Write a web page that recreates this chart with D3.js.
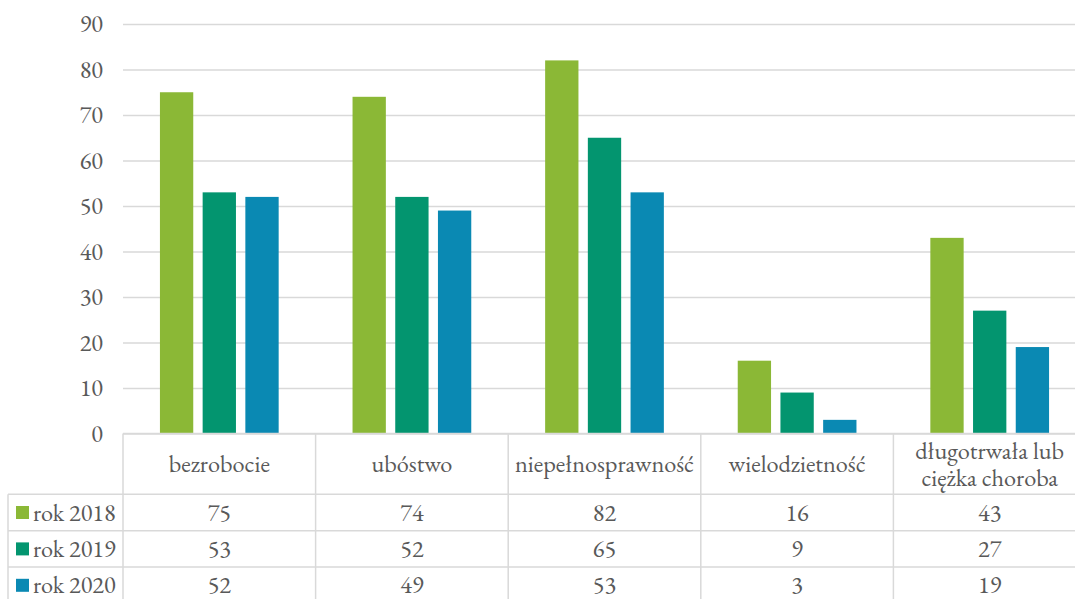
<!DOCTYPE html>
<html><head><meta charset="utf-8">
<script src="https://cdn.jsdelivr.net/npm/d3@7"></script>
<style>body{margin:0;background:#fff;}svg{display:block;}</style>
</head><body>
<svg id="c" width="1075" height="599"></svg>
<script>
const categories = ["bezrobocie","ubóstwo","niepełnosprawność","wielodzietność","długotrwała lub\nciężka choroba"];
const seriesNames = ["rok 2018","rok 2019","rok 2020"];
const rok2018 = [75,74,82,16,43];
const rok2019 = [53,52,65,9,27];
const rok2020 = [52,49,53,3,19];
const colors = ["#8bb836","#03956f","#0a89b3"];
const yTicks = [0,10,20,30,40,50,60,70,80,90];
const values = [rok2018, rok2019, rok2020];

const svg = d3.select("#c");
const textCol = "#595959";
const lineCol = "#d9d9d9";
const fs = 24.3;
const FF = '"EB Garamond", "Liberation Serif"';

const x0 = 123, x1 = 1086, yTop = 24, yBot = 433.5;
const x = d3.scaleBand().domain(categories).range([x0, x1]).paddingInner(0).paddingOuter(0);
const xs = d3.scaleBand().domain(seriesNames).range([0, x.bandwidth()]).paddingInner(0.22).paddingOuter(0.865);
const y = d3.scaleLinear().domain([0, 90]).range([yBot, yTop]);

// gridlines
const grid = svg.append("g").attr("transform", `translate(${x0},0)`)
  .call(d3.axisLeft(y).tickValues(yTicks).tickSize(-(1075 - x0)).tickFormat(""));
grid.select(".domain").remove();
grid.selectAll("line").attr("stroke", lineCol).attr("stroke-width", 1.5);

// y labels
const yl = svg.append("g").attr("transform", `translate(103,0)`)
  .call(d3.axisLeft(y).tickValues(yTicks).tickSize(0).tickPadding(0));
yl.select(".domain").remove();
yl.selectAll("text").style("font-family", FF).attr("font-size", fs).attr("fill", textCol).attr("dy", "0.32em");

// bars
values.forEach((vals, si) => {
  svg.append("g").selectAll("rect").data(vals).enter().append("rect")
    .attr("x", (d, i) => x(categories[i]) + xs(seriesNames[si]))
    .attr("width", xs.bandwidth())
    .attr("y", d => y(d))
    .attr("height", d => y(0) - y(d))
    .attr("fill", colors[si]);
});

// table
const rowH = 36.4;
const headTop = yBot, headBot = 494.3;
const rowsTop = headBot;
const legendLeft = 8;
const tbl = svg.append("g").attr("stroke", lineCol).attr("stroke-width", 1.5).attr("fill", "none");
tbl.append("line").attr("x1", x0).attr("x2", 1075).attr("y1", headTop).attr("y2", headTop);
for (let r = 0; r < 4; r++) {
  const yy = rowsTop + r * rowH;
  tbl.append("line").attr("x1", legendLeft).attr("x2", 1075).attr("y1", yy).attr("y2", yy);
}
const bounds = categories.map(c => x(c)).concat([x1]);
bounds.forEach(b => {
  tbl.append("line").attr("x1", b).attr("x2", b).attr("y1", headTop).attr("y2", 599);
});
tbl.append("line").attr("x1", legendLeft).attr("x2", legendLeft).attr("y1", rowsTop).attr("y2", 599);

function txt(xp, yp, s, anchor) {
  return svg.append("text").attr("x", xp).attr("y", yp).attr("dy", "0.33em")
    .attr("text-anchor", anchor).style("font-family", FF)
    .attr("font-size", fs).attr("fill", textCol).text(s);
}

// category labels (multi-line as tspans in one text)
categories.forEach(c => {
  const lines = c.split("\n");
  const cx = x(c) + x.bandwidth() / 2;
  const cy = (headTop + headBot) / 2 + 0.5;
  const lh = 26.5;
  const t = svg.append("text").attr("text-anchor", "middle").style("font-family", FF)
    .attr("font-size", fs).attr("fill", textCol);
  lines.forEach((ln, li) => {
    t.append("tspan").attr("x", cx)
      .attr("y", cy + (li - (lines.length - 1) / 2) * lh)
      .attr("dy", "0.33em").text(ln);
  });
});

// legend + values
seriesNames.forEach((s, si) => {
  const cy = rowsTop + si * rowH + rowH / 2;
  svg.append("rect").attr("x", 16).attr("y", cy - 6.5).attr("width", 13).attr("height", 13).attr("fill", colors[si]);
  txt(33, cy, s, "start");
  values[si].forEach((v, i) => {
    txt(x(categories[i]) + x.bandwidth() / 2, cy, v, "middle");
  });
});
</script>
</body></html>
